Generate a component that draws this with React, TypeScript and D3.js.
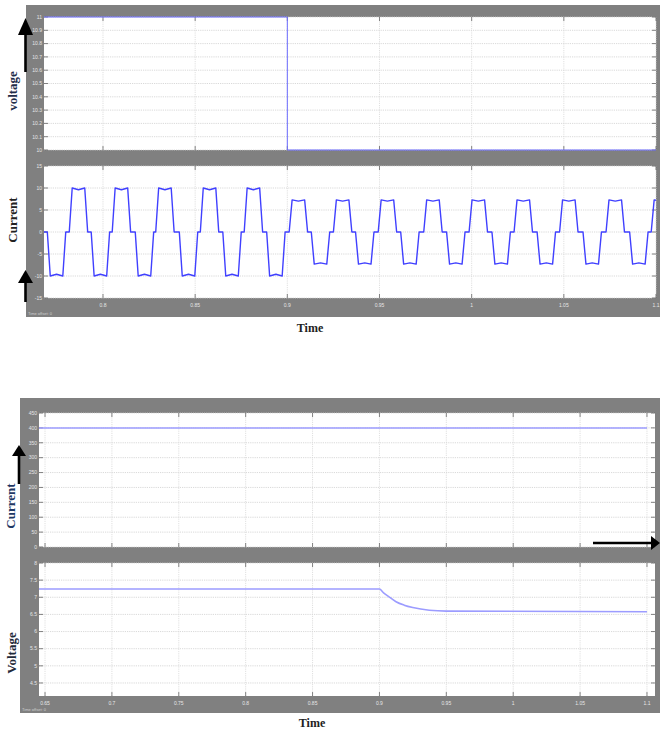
import React from 'react';
import * as d3 from 'd3';

// ---- data ----
const topXTicks = [0.8, 0.85, 0.9, 0.95, 1, 1.05, 1.1];
const topXLabels = ['0.8', '0.85', '0.9', '0.95', '1', '1.05', '1.1'];
const topVoltTicks = [10, 10.1, 10.2, 10.3, 10.4, 10.5, 10.6, 10.7, 10.8, 10.9, 11];
const topVoltLabels = ['10', '10.1', '10.2', '10.3', '10.4', '10.5', '10.6', '10.7', '10.8', '10.9', '11'];
const topVoltTime = [0.768, 0.9, 0.9, 1.1];
const topVoltValue = [11, 11, 10, 10];

const topCurTicks = [-15, -10, -5, 0, 5, 10, 15];
const topCurLabels = ['-15', '-10', '-5', '0', '5', '10', '15'];
// centre of each current plateau and its level
const pulseTimes = [
  0.7748, 0.7867, 0.7986, 0.81, 0.8225, 0.8336, 0.8464, 0.8578, 0.87, 0.8816,
  0.8938, 0.906, 0.918, 0.93, 0.942, 0.9543, 0.9665, 0.979, 0.9914, 1.0036,
  1.016, 1.028, 1.0405, 1.0527, 1.0654, 1.0779, 1.0907, 1.1024,
];
const pulseLevels = [
  -10, 10, -10, 10, -10, 10, -10, 10, -10, 10,
  -10, 7.3, -7.3, 7.3, -7.3, 7.3, -7.3, 7.3, -7.3, 7.3,
  -7.3, 7.3, -7.3, 7.3, -7.3, 7.3, -7.3, 7.3,
];
// shape of one plateau: time offset from centre, fraction of level
const pulseShapeDt = [-0.005, -0.0034, 0, 0.0034, 0.005];
const pulseShapeK = [0, 1, 0.96, 1, 0];

const botXTicks = [0.65, 0.7, 0.75, 0.8, 0.85, 0.9, 0.95, 1, 1.05, 1.1];
const botXLabels = ['0.65', '0.7', '0.75', '0.8', '0.85', '0.9', '0.95', '1', '1.05', '1.1'];
const botCurTicks = [0, 50, 100, 150, 200, 250, 300, 350, 400, 450];
const botCurLabels = ['0', '50', '100', '150', '200', '250', '300', '350', '400', '450'];
const botCurTime = [0.6455, 1.1];
const botCurValue = [400, 400];

const botVoltTicks = [4.5, 5, 5.5, 6, 6.5, 7, 7.5, 8];
const botVoltLabels = ['4.5', '5', '5.5', '6', '6.5', '7', '7.5', '8'];
const botVoltTime = [0.6455, 0.9, 0.9031, 0.9062, 0.9124, 0.9185, 0.9249, 0.9373, 0.95, 1.1];
const botVoltValue = [7.24, 7.24, 7.13, 7.04, 6.87, 6.77, 6.7, 6.62, 6.595, 6.58];

type Pt = [number, number];

function currentTrace(): Pt[] {
  const pts: Pt[] = [[0.768, 0]];
  pulseTimes.forEach((c, i) => {
    pulseShapeDt.forEach((dt, j) => pts.push([c + dt, pulseLevels[i] * pulseShapeK[j]]));
  });
  return pts;
}

const zip = (t: number[], v: number[]): Pt[] => t.map((d, i) => [d, v[i]]);

interface PanelProps {
  id: string;
  x: number; y: number; w: number; h: number;
  xDomain: [number, number];
  yDomain: [number, number];
  xTicks: number[]; xLabels?: string[];
  yTicks: number[]; yLabels: string[];
  data: Pt[];
  color: string;
  lineWidth: number;
  curve?: d3.CurveFactory;
}

function Panel(p: PanelProps) {
  const xs = d3.scaleLinear().domain(p.xDomain).range([p.x, p.x + p.w]);
  const ys = d3.scaleLinear().domain(p.yDomain).range([p.y + p.h, p.y]);
  const line = d3.line<Pt>()
    .x((d) => xs(d[0]))
    .y((d) => ys(d[1]))
    .curve(p.curve || d3.curveLinear);

  return (
    <g>
      <defs>
        <clipPath id={p.id}>
          <rect x={p.x} y={p.y - 1} width={p.w} height={p.h + 2} />
        </clipPath>
      </defs>
      <rect x={p.x} y={p.y} width={p.w} height={p.h} fill="#ffffff" />
      {/* grid */}
      {p.yTicks.map((t) => (
        <line key={'gy' + t} x1={p.x} x2={p.x + p.w} y1={ys(t)} y2={ys(t)}
          stroke="#cfcfcf" strokeWidth={0.8} strokeDasharray="1.2,1" />
      ))}
      {p.xTicks.map((t) => (
        <line key={'gx' + t} x1={xs(t)} x2={xs(t)} y1={p.y} y2={p.y + p.h}
          stroke="#d8d8d8" strokeWidth={0.8} strokeDasharray="1.2,1" />
      ))}
      {/* ticks on all sides */}
      {p.yTicks.map((t) => (
        <g key={'ty' + t} stroke="#666" strokeWidth={0.8}>
          <line x1={p.x} x2={p.x + 4} y1={ys(t)} y2={ys(t)} />
          <line x1={p.x + p.w - 4} x2={p.x + p.w} y1={ys(t)} y2={ys(t)} />
        </g>
      ))}
      {p.xTicks.map((t) => (
        <g key={'tx' + t} stroke="#666" strokeWidth={0.8}>
          <line x1={xs(t)} x2={xs(t)} y1={p.y} y2={p.y + 4} />
          <line x1={xs(t)} x2={xs(t)} y1={p.y + p.h - 4} y2={p.y + p.h} />
        </g>
      ))}
      <g clipPath={`url(#${p.id})`}>
        <path d={line(p.data) || ''} fill="none" stroke={p.color}
          strokeWidth={p.lineWidth} strokeLinejoin="round" />
      </g>
      {/* tick labels */}
      {p.yTicks.map((t, i) => (
        <text key={'ly' + t} x={p.x - 2} y={ys(t) + 1.8} textAnchor="end"
          fontSize={5} fill="#e6e6e6" fontFamily="Liberation Sans">{p.yLabels[i]}</text>
      ))}
      {p.xLabels && p.xTicks.map((t, i) => (
        <text key={'lx' + t} x={xs(t)} y={p.y + p.h + 9} textAnchor="middle"
          fontSize={5} fill="#e6e6e6" fontFamily="Liberation Sans">{p.xLabels![i]}</text>
      ))}
    </g>
  );
}

function UpArrow({ x, tip, base, bottom, half }: { x: number; tip: number; base: number; bottom: number; half: number }) {
  return (
    <g>
      <line x1={x} x2={x} y1={bottom} y2={base - 1} stroke="#000" strokeWidth={2.6} />
      <path d={`M${x},${tip} L${x - half},${base} L${x + half},${base} Z`} fill="#000" />
    </g>
  );
}

export default function App() {
  const titleFont = 'Liberation Serif';
  return (
    <div style={{ position: 'absolute', left: 0, top: 0 }}>
      <svg width={660} height={731} style={{ display: 'block', background: '#fff' }}>
        {/* ---------- upper scope ---------- */}
        <rect x={26} y={5} width={634} height={312} fill="#808080" />
        <Panel id="c1" x={44} y={17} w={612} h={133}
          xDomain={[0.768, 1.1]} yDomain={[10, 11]}
          xTicks={topXTicks} yTicks={topVoltTicks} yLabels={topVoltLabels}
          data={zip(topVoltTime, topVoltValue)} color="#6b6bff" lineWidth={1} />
        <Panel id="c2" x={44} y={166} w={612} h={132}
          xDomain={[0.768, 1.1]} yDomain={[-15, 15]}
          xTicks={topXTicks} xLabels={topXLabels} yTicks={topCurTicks} yLabels={topCurLabels}
          data={currentTrace()} color="#4040ff" lineWidth={1.4} />
        <text x={28} y={315} fontSize={4} fill="#d0d0d0" fontFamily="Liberation Sans">Time offset:  0</text>

        <text transform="translate(17,91) rotate(-90)" textAnchor="middle" fontSize={13}
          fontWeight="bold" fill="#1f2d4a" fontFamily={titleFont}>voltage</text>
        <text transform="translate(17,220) rotate(-90)" textAnchor="middle" fontSize={13}
          fontWeight="bold" fill="#222" fontFamily={titleFont}>Current</text>
        <UpArrow x={25.5} tip={18} base={35} bottom={72} half={7.5} />
        <UpArrow x={25.5} tip={270} base={283} bottom={302} half={7.5} />
        <text x={310} y={332} textAnchor="middle" fontSize={12} fontWeight="bold"
          fill="#222" fontFamily={titleFont}>Time</text>

        {/* ---------- lower scope ---------- */}
        <rect x={20} y={398} width={640} height={315} fill="#808080" />
        <Panel id="c3" x={39} y={413} w={616} h={134}
          xDomain={[0.6455, 1.106]} yDomain={[0, 450]}
          xTicks={botXTicks} yTicks={botCurTicks} yLabels={botCurLabels}
          data={zip(botCurTime, botCurValue)} color="#9c9cff" lineWidth={1.5} />
        <Panel id="c4" x={39} y={563} w={616} h={133}
          xDomain={[0.6455, 1.106]} yDomain={[4.12, 8]}
          xTicks={botXTicks} xLabels={botXLabels} yTicks={botVoltTicks} yLabels={botVoltLabels}
          data={zip(botVoltTime, botVoltValue)} color="#9c9cff" lineWidth={1.6}
          curve={d3.curveMonotoneX} />
        <text x={22} y={711} fontSize={4} fill="#d0d0d0" fontFamily="Liberation Sans">Time offset:  0</text>

        <text transform="translate(15,506) rotate(-90)" textAnchor="middle" fontSize={13}
          fontWeight="bold" fill="#1f3864" fontFamily={titleFont}>Current</text>
        <text transform="translate(16,653) rotate(-90)" textAnchor="middle" fontSize={13}
          fontWeight="bold" fill="#1f2a3a" fontFamily={titleFont}>Voltage</text>
        <UpArrow x={19} tip={445} base={456} bottom={484} half={7} />
        <line x1={593} x2={652} y1={543} y2={543} stroke="#000" strokeWidth={2.4} />
        <path d="M660,543 L651,536 L651,550 Z" fill="#000" />
        <text x={312} y={727} textAnchor="middle" fontSize={12} fontWeight="bold"
          fill="#222" fontFamily={titleFont}>Time</text>
      </svg>
    </div>
  );
}
